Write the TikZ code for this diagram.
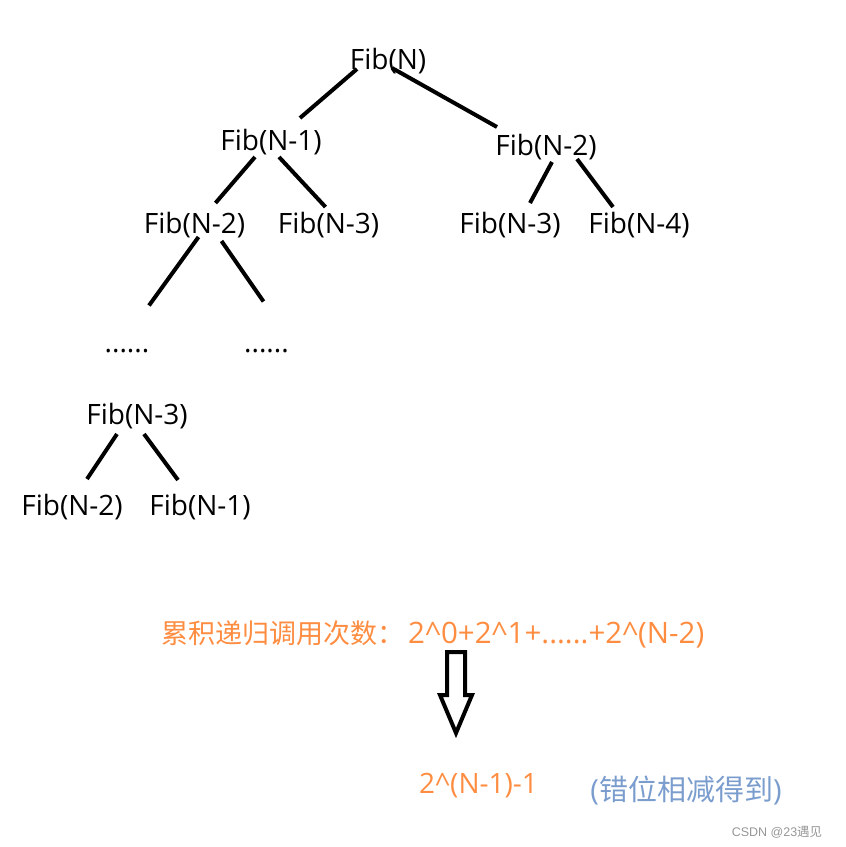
\documentclass[tikz,border=0pt]{standalone}
\usepackage{fontspec}
\setmainfont{Open Sans}
\newfontfamily\cjk{Noto Sans CJK SC}
\newfontfamily\wmfont{Liberation Sans}
\definecolor{sumorange}{RGB}{255, 141, 65}
\definecolor{noteblue}{RGB}{122, 157, 206}
\definecolor{markgray}{RGB}{150, 150, 150}

\begin{document}
\begin{tikzpicture}[x=1pt, y=-1pt,
    fib/.style={anchor=base, inner sep=0pt, font=\fontsize{28}{30}\selectfont},
    edge/.style={line width=4pt}]
    \useasboundingbox (0,0) rectangle (846,847);

    % call tree
    \node[fib] (fibN)   at (388,69)    {Fib(N)};
    \node[fib] (fibNa)  at (271,150)   {Fib(N-1)};
    \node[fib] (fibNb)  at (546,155)   {Fib(N-2)};
    \node[fib] (fibNaa) at (194.5,233) {Fib(N-2)};
    \node[fib] (fibNab) at (328.5,233) {Fib(N-3)};
    \node[fib] (fibNba) at (510,233)   {Fib(N-3)};
    \node[fib] (fibNbb) at (639,233)   {Fib(N-4)};
    \node[fib] (dotsA)  at (127,352.5) {......};
    \node[fib] (dotsB)  at (266.5,352.5) {......};
    \node[fib] (fibM)   at (137,424)   {Fib(N-3)};
    \node[fib] (fibMa)  at (72,515)    {Fib(N-2)};
    \node[fib] (fibMb)  at (200,515)   {Fib(N-1)};

    \draw[edge] ([shift={(-31,0)}]fibN.base)  -- ([shift={(29,-32)}]fibNa.base);
    \draw[edge] ([shift={(4,-1)}]fibN.base)   -- ([shift={(-49,-28)}]fibNb.base);
    \draw[edge] ([shift={(-16,7)}]fibNa.base) -- ([shift={(21,-30)}]fibNaa.base);
    \draw[edge] ([shift={(8,7)}]fibNa.base)   -- ([shift={(-3,-26)}]fibNab.base);
    \draw[edge] ([shift={(6,7)}]fibNb.base)   -- ([shift={(20,-30)}]fibNba.base);
    \draw[edge] ([shift={(31,4)}]fibNb.base)  -- ([shift={(-26,-26)}]fibNbb.base);
    \draw[edge] ([shift={(4,4)}]fibNaa.base)  -- ([shift={(22,-47)}]dotsA.base);
    \draw[edge] ([shift={(27,8)}]fibNaa.base) -- ([shift={(-3,-51)}]dotsB.base);
    \draw[edge] ([shift={(-20,10)}]fibM.base) -- ([shift={(15,-36)}]fibMa.base);
    \draw[edge] ([shift={(7,10)}]fibM.base)   -- ([shift={(-22,-35)}]fibMb.base);

    % sum of calls
    \node[fib, anchor=base west, text=sumorange, font=\fontsize{29.5}{31}\selectfont] (total) at (161,643)
        {{\cjk\fontsize{27}{29}\selectfont 累积递归调用次数：}\hspace{4pt}2\textasciicircum 0+2\textasciicircum 1+......+2\textasciicircum (N-2)};
    \draw[edge] (447,652) -- (465,652) -- (465,695) -- (472,695) -- (456,733)
        -- (440,695) -- (447,695) -- cycle;
    \node[fib, text=sumorange] (result) at (478.5,793) {2\textasciicircum (N-1)-1};
    \node[fib, text=noteblue, font=\fontsize{29}{31}\selectfont] (note) at (686,800)
        {(\cjk 错位相减得到\normalfont)};
    \node[anchor=base, inner sep=0pt, text=markgray, font=\wmfont\fontsize{12.5}{14}\selectfont] (mark) at (777,836)
        {CSDN @23{\cjk 遇见}};
\end{tikzpicture}
\end{document}
